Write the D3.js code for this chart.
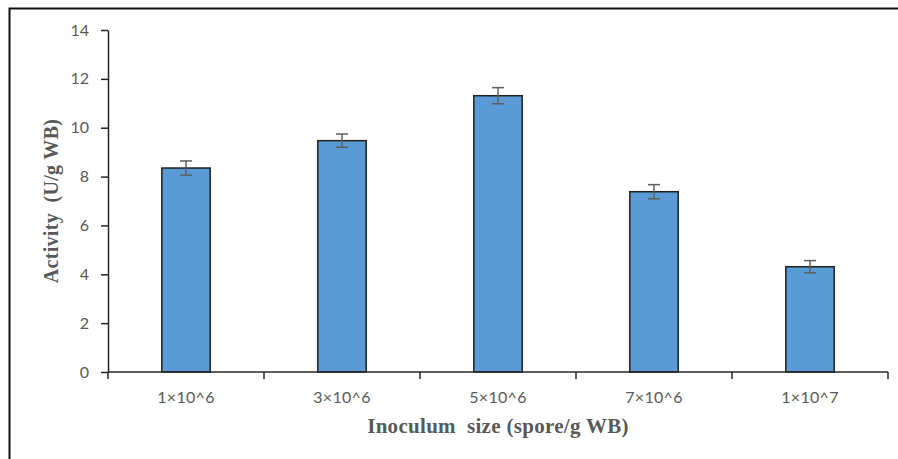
<!DOCTYPE html>
<html><head><meta charset="utf-8">
<script src="https://cdn.jsdelivr.net/npm/d3@7"></script>
<style>body{margin:0;background:#fff}svg{display:block}</style>
</head><body>
<script>
const categories = ["1×10^6","3×10^6","5×10^6","7×10^6","1×10^7"];
const activity = [8.35, 9.47, 11.31, 7.38, 4.31];
const errors = [0.29, 0.27, 0.33, 0.29, 0.25];
const yTicks = [0,2,4,6,8,10,12,14];
const xTitle = "Inoculum  size (spore/g WB)";
const yTitle = "Activity  (U/g WB)";

(function(){
const W = 898, H = 459;
const svg = d3.select("body").append("svg").attr("width", W).attr("height", H);

// frame
svg.append("path").attr("d", `M9.5,${H} V8.5 H${W}`).attr("fill","none").attr("stroke","#111").attr("stroke-width",2);

const pl = 108, pr = 888, pt = 30, pb = 372;
const x = d3.scaleBand().domain(categories).range([pl, pr]).paddingInner(0.69).paddingOuter(0.345);
const y = d3.scaleLinear().domain([0,14]).range([pb, pt]);

// bars
svg.append("g").selectAll("rect").data(categories).join("rect")
  .attr("x", d => x(d)).attr("width", x.bandwidth())
  .attr("y", (d,i) => y(activity[i])).attr("height", (d,i) => y(0) - y(activity[i]))
  .attr("fill", "#5b9bd5").attr("stroke", "#1f1f1f").attr("stroke-width", 1.5);

// error bars
const eg = svg.append("g").attr("stroke", "#5f5f5f").attr("stroke-width", 1.5);
categories.forEach((c,i) => {
  const cx = x(c) + x.bandwidth()/2;
  const y1 = y(activity[i] + errors[i]), y2 = y(activity[i] - errors[i]);
  eg.append("line").attr("x1", cx).attr("x2", cx).attr("y1", y1).attr("y2", y2);
  eg.append("line").attr("x1", cx-6).attr("x2", cx+6).attr("y1", y1).attr("y2", y1);
  eg.append("line").attr("x1", cx-6).attr("x2", cx+6).attr("y1", y2).attr("y2", y2);
});

// y axis
const yAxis = svg.append("g").attr("transform", `translate(${pl},0)`)
  .call(d3.axisLeft(y).tickValues(yTicks).tickSize(7).tickPadding(12).tickSizeOuter(0));
yAxis.select(".domain").attr("stroke", "#262626").attr("stroke-width", 1.5);
yAxis.selectAll(".tick line").attr("stroke", "#262626").attr("stroke-width", 1.5);
yAxis.selectAll("text").attr("fill", "#595959").style("font-family", "Lato, 'Open Sans', sans-serif").style("font-size", "16px");

// x axis
const xb = d3.scalePoint().domain(d3.range(categories.length + 1)).range([pl, pr]);
const xAxisG = svg.append("g").attr("transform", `translate(0,${pb})`);
xAxisG.append("line").attr("x1", pl).attr("x2", pr).attr("stroke", "#262626").attr("stroke-width", 1.5);
xAxisG.selectAll("line.tk").data(d3.range(categories.length + 1)).join("line").attr("class","tk")
  .attr("x1", d => xb(d)).attr("x2", d => xb(d)).attr("y1", 0).attr("y2", 7)
  .attr("stroke", "#262626").attr("stroke-width", 1.5);
xAxisG.selectAll("text").data(categories).join("text")
  .attr("x", d => x(d) + x.bandwidth()/2).attr("y", 31)
  .attr("text-anchor", "middle").attr("fill", "#595959")
  .style("font-family", "Lato, 'Open Sans', sans-serif").style("font-size", "16px")
  .style("letter-spacing", "0.3px")
  .text(d => d);

// titles
svg.append("text").attr("x", (pl+pr)/2).attr("y", 433).attr("text-anchor","middle")
  .attr("fill","#595959").style("font-family","'Liberation Serif', serif").style("font-weight","bold").style("font-size","21px")
  .style("letter-spacing","0.3px").style("white-space","pre").text(xTitle);
svg.append("text").attr("transform", `translate(58,${(pt+pb)/2}) rotate(-90)`).attr("text-anchor","middle")
  .attr("fill","#595959").style("font-family","'Liberation Serif', serif").style("font-weight","bold").style("font-size","20px")
  .style("letter-spacing","0.3px").style("white-space","pre").text(yTitle);
})();
</script>
</body></html>
